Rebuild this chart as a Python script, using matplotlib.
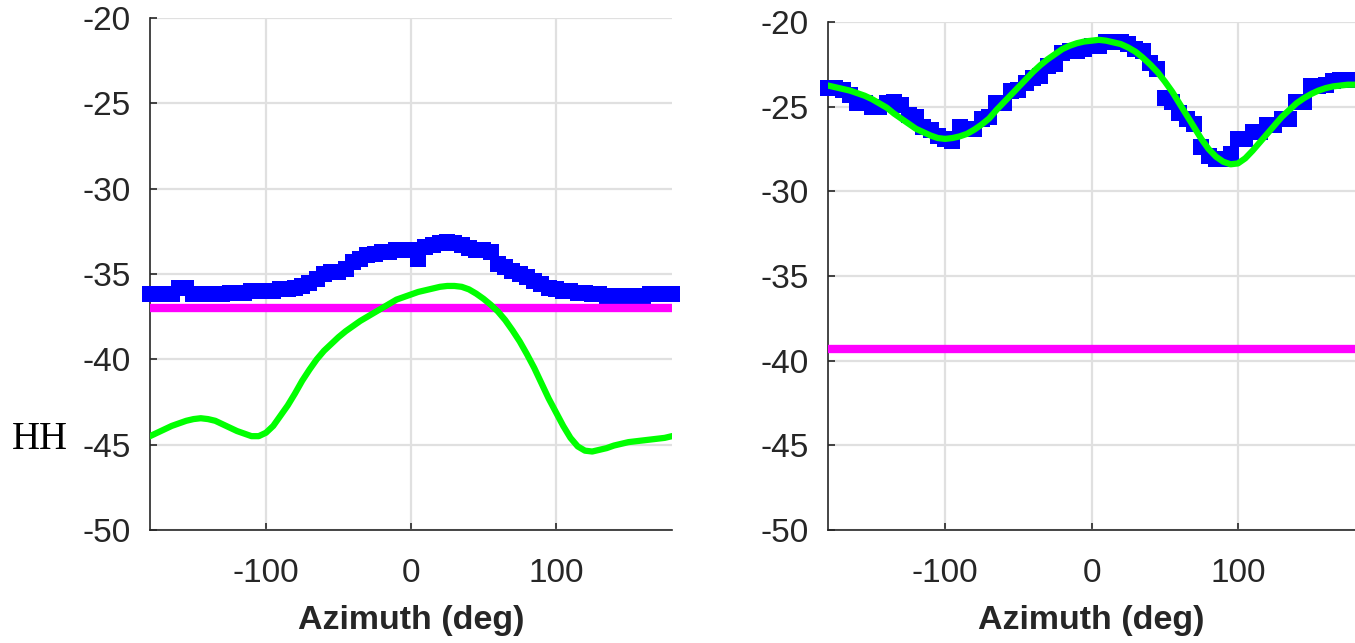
import numpy as np
import matplotlib.pyplot as plt

# azimuth grid (deg), every 5 deg
az = np.arange(-180, 181, 5)

# left panel
left_meas = [-36.2, -36.2, -36.2, -36.2, -35.8, -35.8, -36.2, -36.2, -36.2, -36.2,
             -36.2, -36.1, -36.1, -36.1, -36.0, -36.0, -36.0, -36.0, -35.9, -35.9,
             -35.8, -35.7, -35.5, -35.3, -35.0, -34.9, -34.9, -34.7, -34.3, -34.1,
             -33.9, -33.8, -33.7, -33.7, -33.6, -33.6, -33.6, -34.1, -33.4, -33.3,
             -33.2, -33.1, -33.2, -33.3, -33.5, -33.6, -33.6, -33.7, -34.4, -34.6,
             -34.8, -35.0, -35.2, -35.4, -35.6, -35.8, -35.9, -36.0, -36.0, -36.1,
             -36.1, -36.2, -36.2, -36.3, -36.3, -36.3, -36.3, -36.3, -36.3, -36.2,
             -36.2, -36.2, -36.2]
left_model = [-44.5, -44.3, -44.1, -43.9, -43.75, -43.6, -43.5, -43.45, -43.5, -43.6,
              -43.8, -44.0, -44.2, -44.35, -44.5, -44.5, -44.3, -43.9, -43.3, -42.7,
              -42.0, -41.25, -40.6, -40.0, -39.5, -39.1, -38.7, -38.35, -38.05, -37.75,
              -37.5, -37.25, -37.0, -36.75, -36.5, -36.35, -36.2, -36.05, -35.95, -35.85,
              -35.75, -35.7, -35.7, -35.75, -35.9, -36.15, -36.45, -36.8, -37.2, -37.7,
              -38.3, -38.95, -39.7, -40.5, -41.4, -42.3, -43.1, -43.9, -44.6, -45.1,
              -45.35, -45.4, -45.3, -45.2, -45.05, -44.95, -44.85, -44.8, -44.75, -44.7,
              -44.65, -44.6, -44.5]
left_level = -37.0

# right panel
right_meas = [-23.9, -23.9, -24.0, -24.3, -24.8, -24.8, -25.0, -25.0, -24.8, -24.7,
              -24.9, -25.5, -25.6, -26.2, -26.4, -26.7, -26.9, -27.0, -26.2, -26.3,
              -26.3, -25.7, -25.6, -24.8, -24.8, -24.1, -24.0, -23.6, -23.3, -23.2,
              -22.6, -22.5, -21.8, -21.7, -21.7, -21.6, -21.4, -21.4, -21.2, -21.2,
              -21.2, -21.3, -21.6, -21.7, -22.4, -22.8, -24.5, -24.7, -25.4, -25.7,
              -26.0, -27.4, -27.9, -28.1, -28.1, -27.8, -26.9, -26.9, -26.5, -26.5,
              -26.1, -26.1, -25.7, -25.7, -24.7, -24.7, -23.8, -23.8, -23.7, -23.5,
              -23.4, -23.4, -23.4]
right_model = [-23.75, -23.85, -23.95, -24.05, -24.2, -24.35, -24.55, -24.8, -25.05, -25.4,
               -25.7, -26.0, -26.3, -26.5, -26.7, -26.85, -26.9, -26.85, -26.75, -26.6,
               -26.35, -26.05, -25.7, -25.2, -24.75, -24.3, -23.85, -23.4, -22.95, -22.55,
               -22.2, -21.9, -21.6, -21.4, -21.25, -21.15, -21.1, -21.05, -21.1, -21.2,
               -21.3, -21.5, -21.75, -22.1, -22.5, -22.95, -23.5, -24.1, -24.8, -25.5,
               -26.2, -26.9, -27.5, -27.95, -28.25, -28.4, -28.35, -28.05, -27.6, -27.1,
               -26.6, -26.1, -25.6, -25.2, -24.8, -24.5, -24.25, -24.05, -23.9, -23.8,
               -23.75, -23.7, -23.7]
right_level = -39.3

x_ticks = [-100, 0, 100]
y_ticks = [-50, -45, -40, -35, -30, -25, -20]

plt.rcParams['font.family'] = ['Liberation Sans', 'DejaVu Sans']
plt.rcParams['axes.unicode_minus'] = False

fig = plt.figure(figsize=(13.55, 6.43), dpi=100)
ax_left = fig.add_axes([0.1107, 0.1757, 0.3852, 0.7963])
ax_right = fig.add_axes([0.6111, 0.1757, 0.3889, 0.7900])


def draw_panel(ax, meas, model, level):
    ax.plot(az, meas, linestyle='none', marker='s', markersize=12,
            color='#0000ff', markeredgewidth=0, clip_on=False, zorder=3)
    ax.plot([-180, 180], [level, level], color='#ff00ff', linewidth=6,
            solid_capstyle='butt', zorder=4)
    ax.plot(az, model, color='#00ff00', linewidth=4.5, zorder=5)
    ax.set_xlim(-180, 180)
    ax.set_ylim(-50, -20)
    ax.set_xticks(x_ticks)
    ax.set_yticks(y_ticks)
    ax.grid(True, color='#e0e0e0', linewidth=1.6)
    ax.set_axisbelow(True)
    for side in ['top', 'right']:
        ax.spines[side].set_visible(False)
    for side in ['left', 'bottom']:
        ax.spines[side].set_color('#262626')
        ax.spines[side].set_linewidth(1.2)
    ax.tick_params(direction='in', length=5, width=1.2, color='#262626',
                   labelsize=24, labelcolor='#262626')
    ax.tick_params(axis='y', pad=14)
    ax.tick_params(axis='x', pad=20)
    ax.set_xlabel('Azimuth (deg)', fontsize=24.5, fontweight='bold',
                  color='#262626', labelpad=12)


draw_panel(ax_left, left_meas, left_model, left_level)
draw_panel(ax_right, right_meas, right_model, right_level)

fig.text(0.009, 0.316, 'HH', fontsize=28, family=['Liberation Serif', 'DejaVu Serif'],
         color='black', va='center', ha='left')

plt.savefig('out.png', dpi=100)
